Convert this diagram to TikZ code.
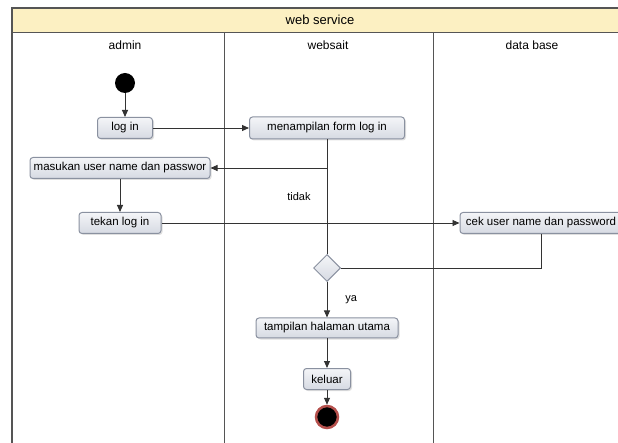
\documentclass[tikz,border=0pt]{standalone}
\usepackage{fontspec}
\setmainfont{Liberation Sans}
\usetikzlibrary{calc,arrows.meta,shapes.geometric,shadows}
\definecolor{headfill}{HTML}{FCF0C2}
\definecolor{laneline}{HTML}{555555}
\definecolor{boxline}{HTML}{8A91A0}
\definecolor{boxtop}{HTML}{F4F5F8}
\definecolor{boxbot}{HTML}{D6DAE2}
\definecolor{flowline}{HTML}{333333}
\definecolor{endring}{HTML}{B5504C}

\begin{document}
\begin{tikzpicture}[x=1pt,y=-1pt,
    act/.style={draw=boxline,line width=1pt,rounded corners=3pt,
      top color=boxtop,bottom color=boxbot,
      drop shadow={opacity=0.25,shadow xshift=1.5pt,shadow yshift=-1.5pt},
      minimum height=21pt,inner sep=2pt,font=\fontsize{11.5}{12}\selectfont},
    flow/.style={draw=flowline,line width=0.9pt,-{Triangle[length=7pt,width=6pt]}},
    plain/.style={draw=flowline,line width=0.9pt},
    lbl/.style={inner sep=0pt,font=\fontsize{11}{12}\selectfont}]
  \useasboundingbox (0,0) rectangle (618,443);
  % swimlanes
  \fill[headfill] (12,8) rectangle (640,33);
  \draw[laneline,line width=1.2pt] (12,8) rectangle (640,460);
  \draw[laneline,line width=1pt] (12,33) -- (640,33);
  \draw[laneline,line width=1pt] (224,33) -- (224,460);
  \draw[laneline,line width=1pt] (433,33) -- (433,460);
  \node (ws) [font=\fontsize{13}{14}\selectfont] at (320,20) {web service};
  \node (admin) [lbl,font=\fontsize{12}{13}\selectfont] at (125,45) {admin};
  \node (websait) [lbl,font=\fontsize{12}{13}\selectfont] at (328,45) {websait};
  \node (db) [lbl,font=\fontsize{12}{13}\selectfont] at (532,45) {data base};

  % activities
  \node (start) [circle,fill=black,minimum size=20pt,inner sep=0pt] at (125,83) {};
  \node (login) [act,minimum width=55pt] at (125,128) {log in};
  \node (masukan) [act,minimum width=180pt,inner sep=1pt] at (120,168) {masukan user name dan passwor};
  \node (tekan) [act,minimum width=82pt] at (120,223) {tekan log in};
  \node (form) [act,minimum width=155pt,minimum height=22pt] at (327,128) {menampilan form log in};
  \node (cek) [act,minimum width=162pt] at (541,223) {cek user name dan password};
  \node (dec) [diamond,aspect=1,draw=boxline,line width=1pt,top color=boxtop,bottom color=boxbot,
    minimum size=27pt,inner sep=0pt] at (327,268) {};
  \node (tampil) [act,minimum width=142pt,minimum height=20pt] at (327,328) {tampilan halaman utama};
  \node (keluar) [act,minimum width=47pt] at (327,379) {keluar};
  \node (fin) [circle,fill=black,draw=endring,line width=2.5pt,minimum size=22pt,inner sep=0pt] at (327,417) {};
  \coordinate (tidakjoin) at (form.south |- masukan.east);

  % flows
  \draw[flow] (start) -- (login);
  \draw[flow] (login) -- (form);
  \draw[plain] (form) -- node[lbl,midway,left=16pt] (tidak) {tidak} (dec);
  \draw[flow] (tidakjoin) -- (masukan);
  \draw[flow] (masukan) -- (tekan);
  \draw[flow] (tekan) -- (cek);
  \draw[plain] (cek.south) |- (dec.east);
  \draw[flow] (dec) -- node[lbl,midway,right=18pt] (ya) {ya} (tampil);
  \draw[flow] (tampil) -- (keluar);
  \draw[flow] (keluar) -- (fin);
\end{tikzpicture}
\end{document}
